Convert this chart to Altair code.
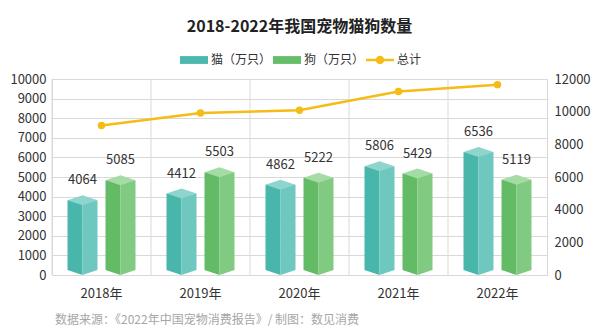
import altair as alt
import pandas as pd

years = ["2018年", "2019年", "2020年", "2021年", "2022年"]
cats = [4064, 4412, 4862, 5806, 6536]
dogs = [5085, 5503, 5222, 5429, 5119]
totals = [9149, 9915, 10084, 11235, 11655]
series = ["猫（万只）", "狗（万只）", "总计"]
left_ticks = list(range(0, 10001, 1000))
right_ticks = list(range(0, 12001, 2000))
title_text = "2018-2022年我国宠物猫狗数量"
source_text = ["数据来源：《2022年中国宠物消费报告》/ 制图：数见消费"]

FONT = "Noto Sans CJK SC"
CAT = {"left": "#49B6AB", "right": "#6FC8BF", "top": "#8ED5CD", "legend": "#4DB8AD"}
DOG = {"left": "#63BB65", "right": "#80CA81", "top": "#A5DBA4", "legend": "#66BE68"}
LINE = "#F5BC16"
GRID = "#D9D9D9"
TXT = "#333333"

RHOMBUS = "M-1,0 L0,-0.3333 L1,0 L0,0.3333 Z"
V_LEFT = "M-1,0 L0,0 L0,0.3333 Z"
V_RIGHT = "M0,0 L1,0 L0,0.3333 Z"
SW_BAR = "M-1,-0.28 H1 V0.28 H-1 Z"
SW_LINE = "M-1,-0.09 H1 V0.09 H-1 Z M0.3,0 A0.3,0.3 0 1,1 -0.3,0 A0.3,0.3 0 1,1 0.3,0 Z"

df = pd.DataFrame({"year": years, "cat": cats, "dog": dogs, "total": totals})
base = alt.Chart(df)

XSCALE = alt.Scale(paddingInner=0, paddingOuter=0)
X_AXIS = dict(labelAngle=0, ticks=False, domain=False, grid=False,
              labelFontSize=13, labelColor=TXT, labelFont=FONT, labelPadding=12)
L_AXIS = dict(values=left_ticks, grid=True, gridColor=GRID, ticks=False, domain=False,
              format="d", labelOverlap=False, tickCount=len(left_ticks) + 5,
              labelFontSize=13, labelColor=TXT, labelFont=FONT, labelPadding=6)
R_AXIS = dict(orient="right", values=right_ticks, grid=False, ticks=False, domain=False,
              format="d", labelOverlap=False, tickCount=len(right_ticks) + 5,
              labelFontSize=13, labelColor=TXT, labelFont=FONT, labelPadding=7)

LSCALE = alt.Scale(domain=[0, 10000], nice=False)
RSCALE = alt.Scale(domain=[0, 12000], nice=False)


def xp():
    return alt.X("year:N", sort=years, title=None, scale=XSCALE, axis=alt.Axis(**X_AXIS))


def yl(field):
    return alt.Y(f"{field}:Q", scale=LSCALE, axis=alt.Axis(**L_AXIS), title=None)


def y0():
    return alt.Y(datum=0, type="quantitative", scale=LSCALE, axis=alt.Axis(**L_AXIS), title=None)


# vertical separators at category boundaries
vrules = base.mark_rule(color=GRID, strokeWidth=1).encode(
    x=alt.X("year:N", sort=years, bandPosition=0, title=None, scale=XSCALE, axis=alt.Axis(**X_AXIS)),
    y=y0(),
    y2=alt.value(0),
)

HALF = 15
OFF = 19


def prism(field, colors, sign):
    center = sign * OFF
    lb = base.mark_bar(width=HALF, xOffset=center - HALF / 2, yOffset=5, y2Offset=-5,
                       color=colors["left"]).encode(x=xp(), y=yl(field), y2=alt.datum(0))
    rb = base.mark_bar(width=HALF, xOffset=center + HALF / 2, yOffset=5, y2Offset=-5,
                       color=colors["right"]).encode(x=xp(), y=yl(field), y2=alt.datum(0))
    top = base.mark_point(shape=RHOMBUS, size=(2 * HALF) ** 2, filled=True, opacity=1,
                          strokeWidth=0, color=colors["top"], xOffset=center, yOffset=5).encode(
        x=xp(), y=yl(field))
    bl = base.mark_point(shape=V_LEFT, size=(2 * HALF) ** 2, filled=True, opacity=1,
                         strokeWidth=0, color=colors["left"], xOffset=center, yOffset=-5).encode(
        x=xp(), y=y0())
    br = base.mark_point(shape=V_RIGHT, size=(2 * HALF) ** 2, filled=True, opacity=1,
                         strokeWidth=0, color=colors["right"], xOffset=center, yOffset=-5).encode(
        x=xp(), y=y0())
    lab = base.mark_text(dx=center, dy=-15, fontSize=13, color=TXT, font=FONT).encode(
        x=xp(), y=yl(field), text=f"{field}:Q")
    return [lb, rb, bl, br, top, lab]


legend_cfg = alt.Legend(title=None, orient="none", legendX=128, legendY=-33, direction="horizontal",
                        symbolSize=784, symbolStrokeWidth=0, labelFontSize=12, labelFont=FONT,
                        labelColor=TXT, labelOffset=3, columnPadding=1)

legend_layer = alt.Chart(pd.DataFrame({"s": series})).mark_point(
    filled=True, opacity=1, clip=True).encode(
    x=alt.value(-300), y=alt.value(-300),
    color=alt.Color("s:N", sort=series,
                    scale=alt.Scale(domain=series, range=[CAT["legend"], DOG["legend"], LINE]),
                    legend=legend_cfg),
    shape=alt.Shape("s:N", sort=series,
                    scale=alt.Scale(domain=series, range=[SW_BAR, SW_BAR, SW_LINE]),
                    legend=legend_cfg),
)

footer = alt.Chart(pd.DataFrame({"t": source_text})).mark_text(
    align="left", baseline="middle", fontSize=12, color="#A6A6A6", font=FONT).encode(
    x=alt.value(3), y=alt.value(241), text="t:N")

left_group = alt.layer(vrules, *prism("cat", CAT, -1), *prism("dog", DOG, 1),
                       legend_layer, footer)


def yr():
    return alt.Y("total:Q", scale=RSCALE, axis=alt.Axis(**R_AXIS), title=None)


line = base.mark_line(color=LINE, strokeWidth=2.5).encode(x=xp(), y=yr())
dots = base.mark_circle(color=LINE, size=55, opacity=1).encode(x=xp(), y=yr())
right_group = alt.layer(line, dots)

chart = alt.layer(left_group, right_group).resolve_scale(y="independent").properties(
    width=495, height=196,
    autosize=alt.AutoSizeParams(type="none"),
    padding={"left": 52, "top": 79, "right": 53, "bottom": 60},
    title=alt.TitleParams(text=title_text, fontSize=16, fontWeight="bold", font=FONT,
                          color="#222222", anchor="middle", frame="group", offset=11),
    background="white",
).configure_view(stroke=GRID, strokeWidth=1)

chart.save("out.html", embed_options={"renderer": "svg", "actions": False})
